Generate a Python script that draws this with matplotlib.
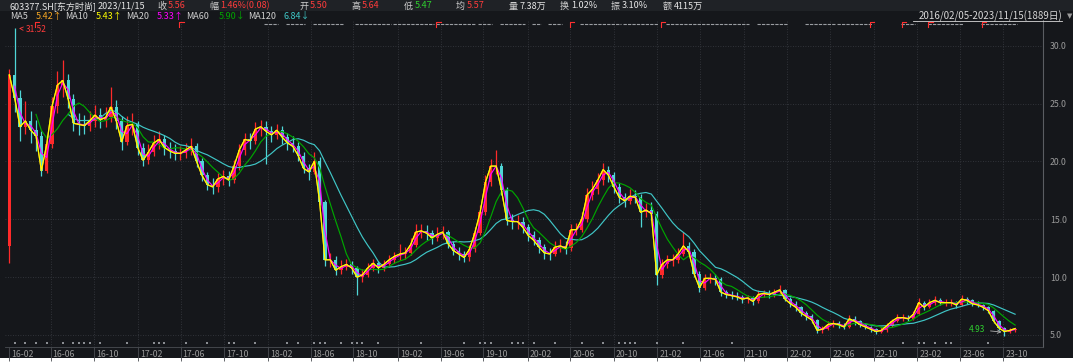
import numpy as np
import pandas as pd
import matplotlib
matplotlib.use("Agg")
import matplotlib.pyplot as plt
import matplotlib.transforms as mtransforms
from matplotlib.collections import LineCollection
from matplotlib.patches import Rectangle

plt.rcParams['font.family'] = ['Noto Sans CJK SC', 'DejaVu Sans']

# ---------------- data (10 trading days per bar) ----------------
start_date = "2016-02-05"
end_date = "2023-11-15"
trading_days = 1889
days_per_bar = 10
first_open = 12.7

close = [27.5, 25.5, 23.0, 23.5, 22.7, 22.2, 19.2, 21.5, 24.8, 26.6,
         27.0, 25.4, 23.3, 23.2, 23.1, 23.5, 24.0, 23.6, 23.8, 24.7,
         23.5, 21.7, 23.1, 23.2, 21.2, 20.1, 20.8, 21.6, 21.9, 21.2,
         20.9, 20.7, 20.7, 21.0, 21.3, 20.0, 18.8, 18.0, 17.8, 18.5,
         18.7, 18.4, 19.6, 21.0, 21.9, 21.8, 22.8, 23.0, 22.6, 22.3,
         22.7, 22.1, 21.6, 21.3, 20.5, 19.4, 19.1, 20.0, 16.5, 11.5,
         11.5, 10.6, 10.9, 11.1, 10.8, 10.0, 10.2, 10.8, 11.2, 10.8,
         11.1, 11.5, 11.8, 12.0, 12.1, 12.8, 13.9, 14.0, 13.8, 13.4,
         13.7, 13.9, 12.9, 12.3, 12.0, 11.7, 12.4, 13.8, 15.6, 18.2,
         19.6, 19.6, 17.5, 14.9, 14.8, 14.8, 14.3, 13.6, 13.2, 12.6,
         12.1, 12.0, 12.6, 12.7, 12.5, 14.1, 14.1, 15.0, 17.1, 17.6,
         18.4, 19.3, 18.8, 17.8, 16.9, 16.6, 17.0, 16.9, 15.6, 15.8,
         15.5, 10.2, 11.1, 11.5, 11.5, 12.0, 12.7, 12.2, 10.3, 9.1,
         9.9, 9.9, 9.8, 8.7, 8.5, 8.4, 8.3, 8.1, 8.2, 7.9,
         8.5, 8.6, 8.5, 8.7, 8.9, 8.1, 7.7, 7.4, 6.9, 6.6,
         6.3, 5.4, 5.5, 5.9, 6.0, 5.9, 5.7, 6.4, 6.2, 5.9,
         5.7, 5.5, 5.3, 5.4, 5.8, 6.2, 6.5, 6.5, 6.4, 6.8,
         7.8, 7.4, 7.8, 8.0, 7.8, 7.8, 7.8, 7.6, 8.1, 8.0,
         7.7, 7.6, 7.4, 7.1, 6.2, 5.6, 5.3, 5.4, 5.56]

high = [28.0, 31.52, 26.2, 25.2, 24.4, 23.6, 22.6, 22.3, 25.6, 27.8,
        28.8, 27.6, 25.8, 24.2, 24.0, 24.4, 24.9, 24.6, 24.7, 26.4,
        25.3, 23.9, 23.9, 24.2, 23.5, 21.6, 21.5, 22.3, 22.6, 22.3,
        21.7, 21.5, 21.3, 21.6, 22.0, 21.6, 20.3, 19.1, 18.6, 19.0,
        19.3, 19.2, 20.1, 21.5, 22.5, 22.5, 23.4, 23.6, 23.5, 23.1,
        23.2, 23.1, 22.5, 22.2, 21.7, 20.8, 19.8, 20.8, 20.4, 16.7,
        12.1, 11.8, 11.5, 11.6, 11.4, 11.0, 10.7, 11.2, 11.6, 11.4,
        11.5, 11.9, 12.2, 12.9, 12.6, 13.4, 14.6, 14.6, 14.5, 14.1,
        14.3, 14.4, 14.1, 13.1, 12.6, 12.3, 12.8, 14.3, 16.2, 18.8,
        20.2, 21.0, 19.9, 17.8, 15.5, 15.4, 15.2, 14.6, 14.0, 13.5,
        12.9, 12.5, 13.1, 13.3, 13.1, 14.6, 14.7, 15.6, 17.7, 18.3,
        19.0, 19.9, 19.6, 19.1, 18.1, 17.3, 17.6, 17.5, 17.2, 16.4,
        16.5, 15.7, 11.6, 11.9, 12.0, 12.5, 13.9, 13.0, 12.4, 10.5,
        10.3, 10.4, 10.3, 10.0, 8.9, 8.8, 8.7, 8.5, 8.5, 8.4,
        8.9, 8.9, 8.9, 9.0, 9.3, 9.0, 8.3, 7.9, 7.5, 7.1,
        6.8, 6.4, 5.8, 6.2, 6.3, 6.2, 6.0, 6.7, 6.6, 6.3,
        6.0, 5.8, 5.6, 5.7, 6.0, 6.4, 6.8, 6.8, 6.7, 7.1,
        8.2, 7.9, 8.1, 8.4, 8.2, 8.1, 8.1, 7.9, 8.5, 8.3,
        8.1, 7.9, 7.7, 7.5, 7.2, 6.3, 5.7, 5.6, 5.64]

low = [11.2, 24.3, 21.8, 22.4, 21.6, 20.9, 18.7, 19.0, 21.2, 24.2,
       25.6, 24.6, 22.6, 22.3, 22.4, 22.6, 23.0, 22.9, 23.0, 23.4,
       22.8, 21.0, 21.4, 22.3, 20.6, 19.6, 19.8, 20.5, 21.1, 20.6,
       20.3, 20.1, 20.1, 20.3, 20.6, 19.5, 18.3, 17.5, 17.2, 17.4,
       18.0, 17.9, 18.1, 19.3, 20.6, 21.1, 21.5, 22.2, 19.8, 21.7,
       21.9, 21.5, 21.0, 20.8, 20.0, 19.0, 18.4, 18.9, 16.2, 11.0,
       10.9, 10.2, 10.3, 10.6, 10.3, 8.5, 9.6, 10.0, 10.5, 10.4,
       10.5, 10.9, 11.2, 11.5, 11.6, 11.9, 12.6, 13.4, 13.2, 12.9,
       13.1, 13.3, 12.5, 11.9, 11.5, 11.3, 11.4, 12.2, 13.6, 15.4,
       17.9, 18.9, 17.1, 14.5, 14.2, 14.2, 13.8, 13.1, 12.8, 12.1,
       11.6, 11.5, 11.8, 12.2, 12.0, 12.3, 13.6, 13.9, 14.8, 16.7,
       17.2, 18.0, 18.2, 17.3, 16.4, 16.1, 16.3, 16.4, 14.3, 15.2,
       14.9, 9.3, 9.9, 10.8, 11.0, 11.2, 11.8, 11.8, 10.0, 8.7,
       8.9, 9.5, 9.3, 8.4, 8.2, 8.1, 8.0, 7.8, 7.8, 7.6,
       7.8, 8.3, 8.2, 8.3, 8.5, 7.9, 7.4, 7.1, 6.6, 6.3,
       6.0, 5.2, 5.2, 5.4, 5.7, 5.6, 5.5, 5.6, 5.9, 5.7,
       5.5, 5.3, 5.1, 5.2, 5.3, 5.7, 6.1, 6.2, 6.2, 6.3,
       6.7, 7.2, 7.3, 7.6, 7.6, 7.5, 7.5, 7.3, 7.5, 7.7,
       7.5, 7.4, 7.2, 6.9, 6.0, 5.4, 4.93, 5.2, 5.3]

ma_days = [5, 10, 20, 60, 120]
ma_colors = {5: "#f5a623", 10: "#ffff00", 20: "#ff00ff", 60: "#00a600", 120: "#3fc6c6"}

month_labels = ["16-02", "16-06", "16-10", "17-02", "17-06", "17-10", "18-02", "18-06",
                "18-10", "19-02", "19-06", "19-10", "20-02", "20-06", "20-10", "21-02",
                "21-06", "21-10", "22-02", "22-06", "22-10", "23-02", "23-06", "23-10"]

# information-event markers (bar index)
top_events = [(48, 50), (52, 55), (57, 62), (65, 71), (72, 79), (80, 87), (88, 90), (92, 96),
              (98, 99), (101, 103), (107, 114), (115, 121), (123, 138), (140, 145),
              (149, 154), (155, 161), (167, 169), (172, 178), (182, 188)]
top_flags = [5, 32, 80, 105, 122, 161, 167, 172, 182]
bottom_events = [1, 3, 5, 7, 10, 12, 13, 14, 15, 17, 22, 27, 28, 29, 33, 37, 41, 42, 46,
                 52, 54, 57, 58, 59, 62, 64, 65, 66, 69, 77, 85, 88, 89, 90, 94, 95, 96, 98,
                 102, 107, 111, 114, 115, 116, 117, 121, 126, 135, 167, 170, 171, 173, 175,
                 176, 183]

header1 = [(10, "603377.SH[东方时尚]", "#e6e6e6"), (98, "2023/11/15", "#e6e6e6"),
           (157, "收", "#cfcfcf"), (168, "5.56", "#ff3b3b"),
           (209, "幅", "#cfcfcf"), (220, "1.46%(0.08)", "#ff3b3b"),
           (299, "开", "#cfcfcf"), (310, "5.50", "#ff3b3b"),
           (351, "高", "#cfcfcf"), (362, "5.64", "#ff3b3b"),
           (404, "低", "#cfcfcf"), (415, "5.47", "#2fd02f"),
           (456, "均", "#cfcfcf"), (467, "5.57", "#ff3b3b"),
           (509, "量", "#cfcfcf"), (520, "7.38万", "#e6e6e6"),
           (560, "换", "#cfcfcf"), (571, "1.02%", "#e6e6e6"),
           (611, "振", "#cfcfcf"), (622, "3.10%", "#e6e6e6"),
           (663, "额", "#cfcfcf"), (674, "4115万", "#e6e6e6")]
header2 = [(10, "MA5", "#d0d0d0"), (36, "5.42↑", ma_colors[5]),
           (65, "MA10", "#d0d0d0"), (96, "5.43↑", ma_colors[10]),
           (126, "MA20", "#d0d0d0"), (157, "5.33↑", ma_colors[20]),
           (186, "MA60", "#d0d0d0"), (219, "5.90↓", ma_colors[60]),
           (248, "MA120", "#d0d0d0"), (284, "6.84↓", ma_colors[120])]
range_text = "2016/02/05-2023/11/15(1889日)"

# ---------------- figure ----------------
W, H = 1080, 364
bg = "#15171b"
fig = plt.figure(figsize=(W / 100, H / 100), dpi=100, facecolor="white")
fig.patches.append(Rectangle((0, 1 - 358 / H), 1073 / W, 358 / H, transform=fig.transFigure,
                             facecolor=bg, edgecolor="none", zorder=-10))
fig.patches.append(Rectangle((0, 1 - 11 / H), 1073 / W, 11 / H, transform=fig.transFigure,
                             facecolor="#1f2226", edgecolor="none", zorder=-9))

ax_l, ax_r, ax_t, ax_b = 5, 1043, 20, 347
ax = fig.add_axes([ax_l / W, 1 - ax_b / H, (ax_r - ax_l) / W, (ax_b - ax_t) / H])
ax.set_facecolor(bg)

n = len(close)
idx = np.arange(n)
c = np.array(close)
o = np.concatenate([[first_open], c[:-1]])
hi = np.array(high)
lo = np.array(low)
up = c >= o

# grid
price_ticks = [5.0, 10.0, 15.0, 20.0, 25.0, 30.0]
for p in price_ticks:
    ax.axhline(p, color="#3a3d43", lw=0.6, ls=(0, (1, 2)), zorder=0)

# month tick positions from the trading calendar
bdays = pd.bdate_range(start_date, end_date)
tick_pos = []
for lab in month_labels:
    d = pd.Timestamp("20" + lab[:2] + "-" + lab[3:] + "-01")
    k = np.searchsorted(bdays.values, np.datetime64(d))
    tick_pos.append(k / (len(bdays) - 1) * (trading_days - 1) / days_per_bar)
for tp in tick_pos[1:]:
    ax.axvline(tp, color="#3a3d43", lw=0.6, ls=(0, (1, 2)), zorder=0)

# candles
segs = [[(i, lo[i]), (i, hi[i])] for i in idx]
cols = np.where(up, "#ff2a2a", "#4fd6d6")
ax.add_collection(LineCollection(segs, colors=cols, linewidths=0.9, zorder=2))
ax.bar(idx, np.abs(c - o), bottom=np.minimum(c, o), width=0.6, color=cols, linewidth=0, zorder=2)

# moving averages
cs = pd.Series(c)
for d in [120, 60, 20, 5, 10]:
    w = max(1, int(round(d / days_per_bar)))
    ax.plot(idx, cs.rolling(w).mean(), color=ma_colors[d], lw=0.85, zorder=3)

# max / min annotations
imax = int(np.argmax(hi))
imin = int(np.argmin(lo))
ax.annotate(f"{hi[imax]:.2f}", xy=(imax + 0.3, hi[imax]), xytext=(7, -1), textcoords="offset points",
            color="#ff3b3b", fontsize=6, va="center", ha="left",
            arrowprops=dict(arrowstyle="->", color="#ff3b3b", lw=0.6))
ax.annotate(f"{lo[imin]:.2f}", xy=(imin, lo[imin] + 0.3), xytext=(-14, 2), textcoords="offset points",
            color="#2fd02f", fontsize=6, va="center", ha="right",
            arrowprops=dict(arrowstyle="->", color="#b0b0b0", lw=0.6))

# event markers
trans = mtransforms.blended_transform_factory(ax.transData, ax.transAxes)
for a, b in top_events:
    ax.plot([a - 0.3, b + 0.3], [0.988, 0.988], transform=trans, color="#9a9da2", lw=0.8,
            ls=(0, (3, 1)), solid_capstyle="butt", zorder=4, clip_on=False)
for f in top_flags:
    ax.plot([f - 0.2, f - 0.2, f + 0.6], [0.98, 0.995, 0.995], transform=trans, color="#ff3030",
            lw=0.8, zorder=5, clip_on=False)
ax.scatter(bottom_events, [0.012] * len(bottom_events), transform=trans, marker="s", s=3,
           color="#8a8d92", zorder=4, linewidths=0)

# axes styling
ax.set_xlim((ax_l - 9.3) / 5.35, (ax_r - 9.3) / 5.35)
ax.set_ylim(5 + (335 - ax_b) / 11.57, 5 + (335 - ax_t) / 11.57)
ax.yaxis.tick_right()
ax.set_yticks(price_ticks)
ax.set_yticklabels([f"{p:.1f}" for p in price_ticks])
ax.tick_params(axis="y", length=0, pad=5, colors="#9a9a9a", labelsize=6.3)
ax.set_xticks(tick_pos)
ax.set_xticklabels(month_labels, ha="left")
ax.tick_params(axis="x", length=10, width=0.6, direction="out", color="#4a4d52", pad=-8,
               colors="#9a9a9a", labelsize=6.3)
for lbl in ax.get_xticklabels():
    lbl.set_transform(lbl.get_transform() + mtransforms.ScaledTranslation(2 / 100, 0, fig.dpi_scale_trans))
for s in ["top", "left"]:
    ax.spines[s].set_visible(False)
ax.spines["right"].set_color("#5a5d62")
ax.spines["right"].set_linewidth(0.8)
ax.spines["bottom"].set_color("#4a4d52")
ax.spines["bottom"].set_linewidth(0.6)
ax.spines["bottom"].set_linestyle((0, (2, 1)))

# header text
for x, t, col in header1:
    fig.text(x / W, 1 - 6 / H, t, color=col, fontsize=6.5, va="center", ha="left")
for x, t, col in header2:
    fig.text(x / W, 1 - 16.5 / H, t, color=col, fontsize=6.5, va="center", ha="left")
fig.text(1062 / W, 1 - 16 / H, range_text, color="#d8d8d8", fontsize=7, va="center", ha="right")
fig.lines.append(plt.Line2D([913 / W, 1062 / W], [1 - 21 / H, 1 - 21 / H], transform=fig.transFigure,
                            color="#d8d8d8", lw=0.6))
fig.text(1070 / W, 1 - 16 / H, "▼", color="#9a9a9a", fontsize=5, va="center", ha="center",
         family=["DejaVu Sans"])

fig.savefig("out.png", dpi=100, facecolor=fig.get_facecolor())
